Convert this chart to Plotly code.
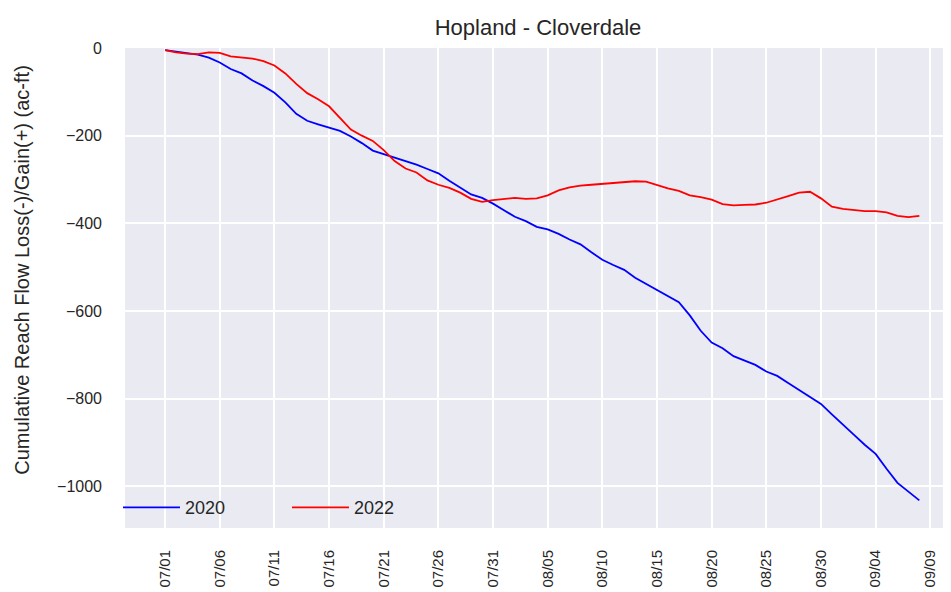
import pandas as pd
import plotly.graph_objects as go

# ---- data ----
start_date = "2022-07-01"
n_days = 70
dates = pd.date_range(start_date, periods=n_days, freq="D")

series_2020 = [-5, -8, -11, -15, -22, -33, -48, -58, -74, -87,
               -102, -124, -150, -166, -174, -182, -189, -202, -217, -234,
               -242, -249, -258, -266, -276, -286, -303, -318, -334, -342,
               -355, -370, -385, -395, -408, -414, -424, -437, -448, -466,
               -483, -495, -506, -524, -538, -553, -567, -580, -610, -645,
               -672, -685, -703, -713, -723, -738, -748, -764, -780, -794,
               -812, -836, -860, -882, -905, -926, -960, -992, -1012, -1032]

series_2022 = [-5, -10, -13, -14, -10, -11, -19, -21, -24, -30,
               -40, -58, -82, -103, -117, -133, -160, -186, -200, -212,
               -233, -258, -275, -284, -302, -312, -319, -330, -344, -351,
               -347, -345, -342, -344, -343, -336, -325, -318, -314, -312,
               -310, -308, -307, -304, -305, -313, -320, -326, -336, -340,
               -346, -356, -359, -358, -357, -353, -346, -338, -330, -328,
               -343, -362, -367, -370, -372, -372, -375, -383, -386, -383]

series_names = ["2020", "2022"]
series_colors = ["#0000FF", "#FF0000"]
title_text = "Hopland - Cloverdale"
y_label = "Cumulative Reach Flow Loss(-)/Gain(+) (ac-ft)"
y_ticks = [0, -200, -400, -600, -800, -1000]
y_tick_labels = ["0", "\u2212200", "\u2212400", "\u2212600", "\u2212800", "\u22121000"]

FONT = "Liberation Sans, Arial, sans-serif"
TXT = "#262626"

fig = go.Figure()
for name, vals, col in zip(series_names, [series_2020, series_2022], series_colors):
    fig.add_trace(go.Scatter(x=dates, y=vals, mode="lines", name=name,
                             line=dict(color=col, width=1.8)))

# the page places the figure 8px in from the top-left corner
fig.update_layout(
    width=943, height=584,
    margin=dict(l=117, r=0, t=40, b=64, autoexpand=False),
    paper_bgcolor="white",
    plot_bgcolor="#EAEAF2",
    font=dict(family=FONT, color=TXT),
    title=dict(text=title_text, xref="paper", x=0.5, xanchor="center",
               yref="container", y=0.9675, yanchor="middle",
               font=dict(size=22, color=TXT, family=FONT)),
    showlegend=True,
    legend=dict(orientation="h", x=-0.0085, xanchor="left", y=0.004, yanchor="bottom",
                bgcolor="rgba(0,0,0,0)", font=dict(size=18, color=TXT, family=FONT),
                entrywidth=97, entrywidthmode="pixels", itemwidth=57,
                traceorder="normal"),
    annotations=[dict(text=y_label, xref="paper", yref="paper",
                      x=-0.125, y=0.5375, xanchor="center", yanchor="middle",
                      textangle=-90, showarrow=False,
                      font=dict(size=20, color=TXT, family=FONT))],
)

fig.update_xaxes(
    range=["2022-06-27 08:00", "2022-09-10 21:30"],
    tick0=start_date, dtick=5 * 86400000, tickformat="%m/%d",
    tickangle=-90, ticklabelstandoff=18, automargin=False,
    showgrid=True, gridcolor="white", gridwidth=1.6,
    zeroline=False, showline=False, ticks="",
    tickfont=dict(size=15, color=TXT, family=FONT),
)
fig.update_yaxes(
    range=[-1095, 0],
    tickvals=y_ticks, ticktext=y_tick_labels,
    ticklabelstandoff=22, automargin=False,
    showgrid=True, gridcolor="white", gridwidth=1.6,
    zeroline=False, showline=False, ticks="",
    tickfont=dict(size=16, color=TXT, family=FONT),
)

fig.write_html("out.html")
